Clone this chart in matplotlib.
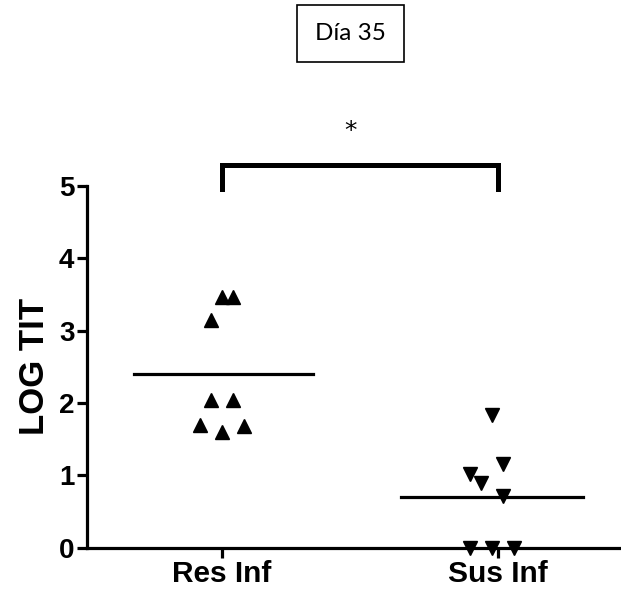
import matplotlib.pyplot as plt

plt.switch_backend('agg')

# Data
groups = ['Res Inf', 'Sus Inf']
res_offsets = [0.0, 0.04, -0.04, -0.04, 0.04, -0.08, 0.0, 0.08]
res_values = [3.47, 3.46, 3.15, 2.04, 2.04, 1.69, 1.60, 1.68]
sus_offsets = [-0.02, 0.02, -0.10, -0.06, 0.02, -0.10, -0.02, 0.06]
sus_values = [1.84, 1.16, 1.02, 0.89, 0.72, 0.0, 0.0, 0.0]
res_mean = 2.40
sus_mean = 0.70
title_text = 'Día 35'
y_label = 'LOG TIT'
y_ticks = [0, 1, 2, 3, 4, 5]

fig = plt.figure(figsize=(6.21, 5.96), dpi=100)
ax = fig.add_axes([0.140, 0.081, 0.860, 0.607])

ax.plot([0 + o for o in res_offsets], res_values, linestyle='none', marker='^',
        color='black', markersize=10, clip_on=False, zorder=3)
ax.plot([1 + o for o in sus_offsets], sus_values, linestyle='none', marker='v',
        color='black', markersize=10, clip_on=False, zorder=3)

# mean lines
ax.plot([-0.32, 0.33], [res_mean, res_mean], color='black', linewidth=2.3)
ax.plot([1 - 0.35, 1 + 0.31], [sus_mean, sus_mean], color='black', linewidth=2.3)

# significance bracket
ax.plot([0, 0, 1, 1], [4.96, 5.29, 5.29, 4.96], color='black', linewidth=3.6,
        clip_on=False, solid_joinstyle='miter')
ax.text(0.465, 5.76, '*', ha='center', va='center', fontsize=18, clip_on=False)

ax.set_xlim(-0.489, 1.446)
ax.set_ylim(0, 5)
ax.set_xticks([0, 1])
ax.set_xticklabels(groups, fontsize=21.5, fontweight='bold', family='Liberation Sans')
ax.set_yticks(y_ticks)
ax.set_yticklabels([str(t) for t in y_ticks], fontsize=20, fontweight='bold',
                   family='Liberation Sans')
ax.set_ylabel(y_label, fontsize=25, fontweight='bold', family='Liberation Sans', labelpad=6)

for side in ['top', 'right']:
    ax.spines[side].set_visible(False)
for side in ['left', 'bottom']:
    ax.spines[side].set_linewidth(2.3)
ax.tick_params(axis='both', width=2.3, length=7, color='black', pad=2)

fig.text(0.564, 0.944, title_text, ha='center', va='center', fontsize=17.5, family='Lato',
         bbox=dict(boxstyle='square,pad=0.75', facecolor='white', edgecolor='black', linewidth=1.2))

fig.savefig('out.png', dpi=100)
